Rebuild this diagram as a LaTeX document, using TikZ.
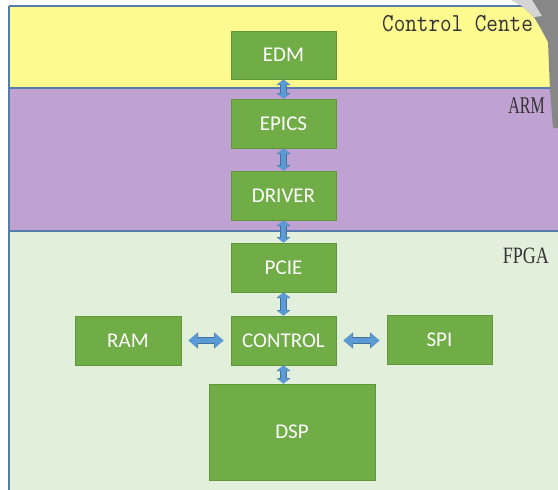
\documentclass[tikz,border=0pt]{standalone}
\usepackage{fontspec}
\setmainfont{Carlito}
\newfontfamily\seriffnt{Liberation Serif}
\usetikzlibrary{arrows.meta}
\definecolor{bandyellow}{RGB}{253,250,143}
\definecolor{bandpurple}{RGB}{192,162,210}
\definecolor{bandgreen}{RGB}{226,239,218}
\definecolor{bandline}{RGB}{84,124,172}
\definecolor{boxgreen}{RGB}{112,173,71}
\definecolor{boxedge}{RGB}{96,150,60}
\definecolor{arrowblue}{RGB}{91,155,213}
\definecolor{arrowedge}{RGB}{65,113,156}
\definecolor{photogray}{RGB}{135,135,135}
\tikzset{
  blk/.style={draw=boxedge, line width=1pt, fill=boxgreen, text=white,
    font=\fontsize{21}{24}\selectfont, inner sep=0pt, minimum width=105pt, minimum height=49pt},
  vlink/.style={draw=arrowblue, line width=5.5pt,
    arrows={Triangle[width=12pt,length=5pt]-Triangle[width=12pt,length=5pt]},
    preaction={draw=arrowedge, line width=7pt,
    arrows={Triangle[width=13.5pt,length=5.5pt]-Triangle[width=13.5pt,length=5.5pt]}}},
  hlink/.style={draw=arrowblue, line width=5.5pt,
    arrows={Triangle[width=14pt,length=9pt]-Triangle[width=14pt,length=9pt]},
    preaction={draw=arrowedge, line width=7pt,
    arrows={Triangle[width=15.5pt,length=9.5pt]-Triangle[width=15.5pt,length=9.5pt]}},
    shorten <=7pt, shorten >=7pt},
  bandlabel/.style={inner sep=0pt, text=black!80}
}
\begin{document}
\begin{tikzpicture}[x=1pt,y=-1pt]
\useasboundingbox (0,0) rectangle (558,490);
\fill[white] (0,0) rectangle (558,490);
% bands
\fill[bandyellow] (8.5,6) rectangle (558,88);
\fill[bandpurple] (8.5,88) rectangle (558,231);
\fill[bandgreen] (8.5,231) rectangle (558,490);
\draw[bandline, line width=1.2pt] (8.5,6) -- (558,6);
\draw[bandline, line width=1.8pt] (8.5,88) -- (558,88);
\draw[bandline, line width=1.8pt] (8.5,231) -- (558,231);
\draw[bandline, line width=2pt] (8.5,6) -- (8.5,490);
% band labels
\node[bandlabel, anchor=base west] (lcc) at (382,31) {\ttfamily\fontsize{22.5}{24}\selectfont\scalebox{1}[1.15]{Control Cente}};
\node[bandlabel, anchor=base east] (larm) at (545,113) {\seriffnt\fontsize{16}{18}\selectfont\scalebox{1}[1.5]{ARM}};
\node[bandlabel, anchor=base east] (lfpga) at (549,263) {\seriffnt\fontsize{18}{20}\selectfont\scalebox{1}[1.3]{FPGA}};
% photo fragment in the corner
\fill[photogray] (512,0) -- (558,0) -- (558,128) -- (553,128) -- (550,90) -- (548,42) -- (541,29) -- (534,17) -- (522,6) -- cycle;
\fill[white!65!photogray] (512,0) -- (532,0) -- (542,16) -- (534,17) -- (522,6) -- cycle;
% blocks
\node[blk, minimum height=48pt] (edm) at (283.5,55) {EDM};
\node[blk] (epics) at (283.5,123.5) {EPICS};
\node[blk] (driver) at (283.5,195.5) {DRIVER};
\node[blk] (pcie) at (283.5,267.5) {PCIE};
\node[blk] (control) at (283.5,340.5) {CONTROL};
\node[blk, minimum width=106pt] (ram) at (128,340.5) {RAM};
\node[blk] (spi) at (439.5,339.5) {SPI};
\node[blk, minimum width=166pt, minimum height=96pt] (dsp) at (292,432) {DSP};
% connectors
\draw[vlink] (edm.south) -- (epics.north);
\draw[vlink] (epics.south) -- (driver.north);
\draw[vlink] (driver.south) -- (pcie.north);
\draw[vlink] (pcie.south) -- (control.north);
\draw[vlink] (control.south) -- (control.south |- dsp.north);
\draw[hlink] (ram.east) -- (control.west);
\draw[hlink] (control.east) -- (spi.west |- control.east);
\end{tikzpicture}
\end{document}
